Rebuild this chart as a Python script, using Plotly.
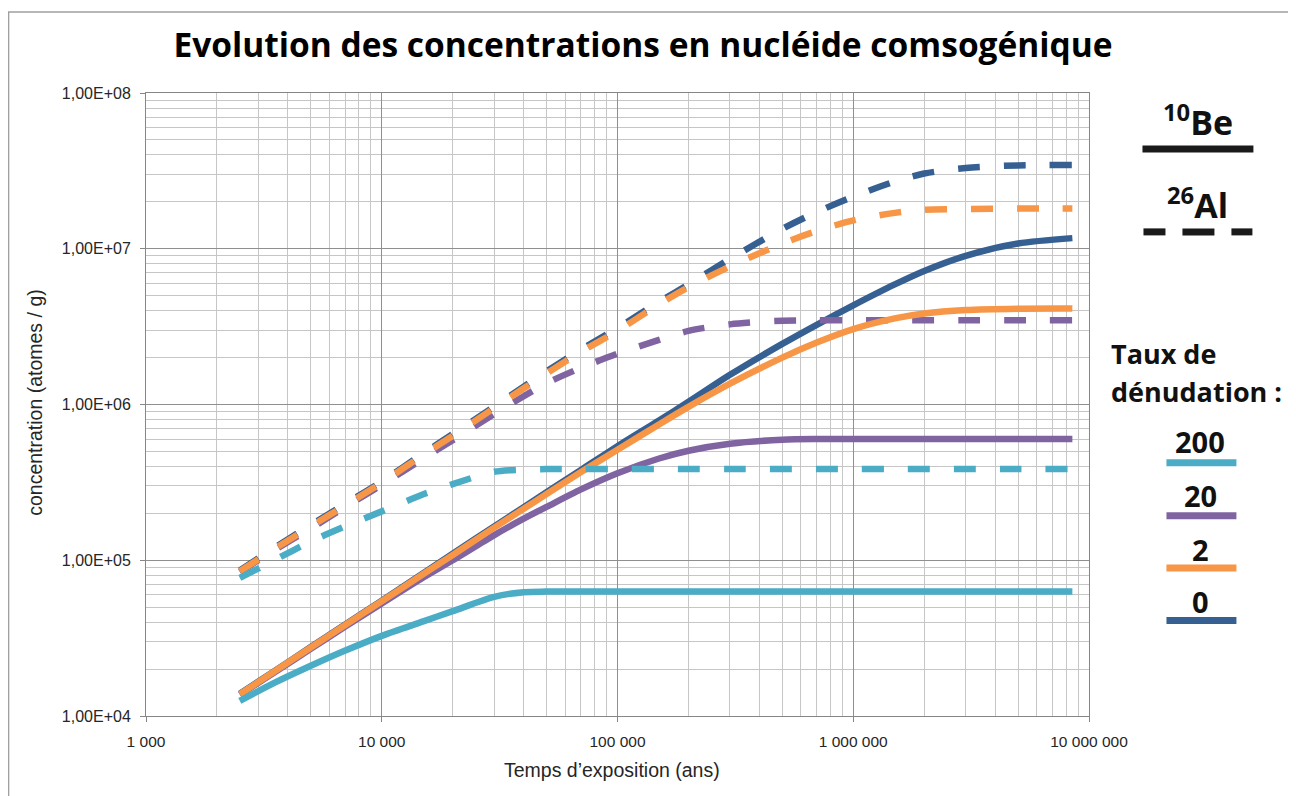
import plotly.graph_objects as go

# ---------------- data ----------------
years = [2500, 3500, 5000, 7000, 10000, 15000, 20000, 30000, 40000, 50000, 70000,
         100000, 150000, 200000, 300000, 500000, 700000, 1000000, 1500000,
         2000000, 3000000, 5000000, 8500000]

# 10Be (solid lines), by denudation rate
be_0 = [1.39e4, 1.94e4, 2.77e4, 3.87e4, 5.5e4, 8.25e4, 1.1e5, 1.65e5, 2.19e5, 2.73e5, 3.8e5,
        5.4e5, 7.9e5, 1.04e6, 1.55e6, 2.45e6, 3.25e6, 4.33e6, 5.9e6, 7.2e6, 9.0e6, 1.08e7, 1.17e7]
be_2 = [1.38e4, 1.93e4, 2.75e4, 3.84e4, 5.45e4, 8.15e4, 1.08e5, 1.62e5, 2.14e5, 2.66e5, 3.68e5,
        5.12e5, 7.45e5, 9.66e5, 1.36e6, 2.0e6, 2.5e6, 3.05e6, 3.57e6, 3.84e6, 4.04e6, 4.12e6, 4.13e6]
be_20 = [1.37e4, 1.9e4, 2.7e4, 3.75e4, 5.28e4, 7.75e4, 1.0e5, 1.45e5, 1.85e5, 2.2e5, 2.85e5,
         3.62e5, 4.5e5, 5.05e5, 5.6e5, 5.94e5, 6.0e5, 6.0e5, 6.0e5, 6.0e5, 6.0e5, 6.0e5, 6.0e5]
be_200 = [1.25e4, 1.63e4, 2.1e4, 2.63e4, 3.27e4, 4.05e4, 4.71e4, 5.82e4, 6.24e4, 6.29e4, 6.3e4,
          6.3e4, 6.3e4, 6.3e4, 6.3e4, 6.3e4, 6.3e4, 6.3e4, 6.3e4, 6.3e4, 6.3e4, 6.3e4, 6.3e4]

# 26Al (dashed lines), by denudation rate
al_0 = [8.6e4, 1.2e5, 1.68e5, 2.3e5, 3.2e5, 4.85e5, 6.45e5, 9.7e5, 1.3e6, 1.63e6, 2.25e6,
        3.1e6, 4.55e6, 5.9e6, 8.6e6, 1.34e7, 1.72e7, 2.16e7, 2.7e7, 3.04e7, 3.3e7, 3.43e7, 3.45e7]
al_2 = [8.5e4, 1.18e5, 1.65e5, 2.25e5, 3.15e5, 4.75e5, 6.3e5, 9.5e5, 1.27e6, 1.58e6, 2.18e6,
        2.97e6, 4.4e6, 5.67e6, 7.7e6, 1.08e7, 1.3e7, 1.52e7, 1.7e7, 1.78e7, 1.8e7, 1.81e7, 1.81e7]
al_20 = [8.4e4, 1.16e5, 1.6e5, 2.2e5, 3.05e5, 4.5e5, 5.9e5, 8.7e5, 1.13e6, 1.37e6, 1.72e6,
         2.12e6, 2.6e6, 2.97e6, 3.27e6, 3.45e6, 3.47e6, 3.47e6, 3.47e6, 3.47e6, 3.47e6, 3.47e6, 3.47e6]
al_200 = [7.7e4, 1.0e5, 1.32e5, 1.65e5, 2.06e5, 2.65e5, 3.08e5, 3.7e5, 3.82e5, 3.85e5, 3.85e5,
          3.85e5, 3.85e5, 3.85e5, 3.85e5, 3.85e5, 3.85e5, 3.85e5, 3.85e5, 3.85e5, 3.85e5, 3.85e5, 3.85e5]

x_tickvals = [1e3, 1e4, 1e5, 1e6, 1e7]
x_ticktext = ["1 000", "10 000", "100 000", "1 000 000", "10 000 000"]
y_tickvals = [1e4, 1e5, 1e6, 1e7, 1e8]
y_ticktext = ["1,00E+04", "1,00E+05", "1,00E+06", "1,00E+07", "1,00E+08"]

rate_labels = ["200", "20", "2", "0"]

# ---------------- style ----------------
C_BLUE = "#376092"
C_ORANGE = "#f79646"
C_PURPLE = "#8064a2"
C_CYAN = "#4bacc6"
W = 1296
H = 796
OFF = 8  # page body margin
L, R, T, B = 146, 1089.5, 93, 716.5


def px(xp):
    return (xp - L) / (R - L)


def py(yp):
    return (B - yp) / (B - T)


DASH = "22px,24px"

fig = go.Figure()
order = [
    (al_0, C_BLUE, DASH), (be_0, C_BLUE, "solid"),
    (al_20, C_PURPLE, DASH), (be_20, C_PURPLE, "solid"),
    (al_2, C_ORANGE, DASH), (be_2, C_ORANGE, "solid"),
    (al_200, C_CYAN, DASH), (be_200, C_CYAN, "solid"),
]
for ys, col, dash in order:
    fig.add_trace(go.Scatter(
        x=years, y=ys, mode="lines",
        line=dict(color=col, width=6.5, dash=dash, shape="spline", smoothing=0.8),
        showlegend=False, hoverinfo="skip"))


def minor_vals(lo, hi):
    out = []
    d = lo
    while d < hi:
        for k in range(2, 10):
            out.append(k * d)
        d *= 10
    return out


axis_common = dict(
    type="log", showline=True, linecolor="#868686", linewidth=1, mirror=True,
    ticks="outside", ticklen=5, tickcolor="#868686",
    showgrid=True, gridcolor="#8f8f8f", gridwidth=1, zeroline=False,
)

fig.update_xaxes(
    **axis_common, range=[3, 7], tickmode="array", tickvals=x_tickvals, ticktext=x_ticktext,
    tickfont=dict(family="Liberation Sans", size=15.5, color="#262626"),
    minor=dict(tickvals=minor_vals(1e3, 1e7), showgrid=True, gridcolor="#c6c6c6", gridwidth=1, ticks=""),
    ticklabelstandoff=6,
)
fig.update_yaxes(
    **axis_common, range=[4, 8], tickmode="array", tickvals=y_tickvals, ticktext=y_ticktext,
    tickfont=dict(family="Liberation Sans", size=16, color="#262626"),
    minor=dict(tickvals=minor_vals(1e4, 1e8), showgrid=True, gridcolor="#c6c6c6", gridwidth=1, ticks=""),
    ticklabelstandoff=6,
)

shapes = []
# outer chart border
shapes.append(dict(type="rect", xref="paper", yref="paper", x0=px(8.5), x1=px(1310), y0=py(12), y1=py(810),
                   line=dict(color="#a0a0a0", width=1.5), fillcolor="rgba(0,0,0,0)", layer="below"))
# 10Be legend line
shapes.append(dict(type="line", xref="paper", yref="paper", x0=px(1143), x1=px(1254), y0=py(149), y1=py(149),
                   line=dict(color="#1a1a1a", width=7)))
# 26Al legend dashed line (three segments)
for a, b in [(1144, 1166), (1183, 1215), (1232, 1253)]:
    shapes.append(dict(type="line", xref="paper", yref="paper", x0=px(a), x1=px(b), y0=py(232), y1=py(232),
                       line=dict(color="#1a1a1a", width=7)))
# denudation-rate legend bars
for lab, col, ybar in zip(rate_labels, [C_CYAN, C_PURPLE, C_ORANGE, C_BLUE], [463, 516, 568.5, 621]):
    shapes.append(dict(type="line", xref="paper", yref="paper", x0=px(1167), x1=px(1237), y0=py(ybar), y1=py(ybar),
                       line=dict(color=col, width=7)))

annotations = []
TF = "Open Sans"
AF = "Liberation Sans"
# axis titles
annotations.append(dict(xref="paper", yref="paper", x=px(612), y=py(771), text="Temps d’exposition (ans)",
                        showarrow=False, font=dict(family=AF, size=19.5, color="#262626"),
                        xanchor="center", yanchor="middle"))
annotations.append(dict(xref="paper", yref="paper", x=px(35), y=py(403), text="concentration (atomes / g)",
                        showarrow=False, textangle=-90, font=dict(family=AF, size=19.5, color="#262626"),
                        xanchor="center", yanchor="middle"))
# legend texts
annotations.append(dict(xref="paper", yref="paper", x=px(1199), y=py(121), text="<b><sup>10</sup>Be</b>",
                        showarrow=False, font=dict(family=TF, size=34, color="#111"), xanchor="center", yanchor="middle"))
annotations.append(dict(xref="paper", yref="paper", x=px(1198), y=py(204), text="<b><sup>26</sup>Al</b>",
                        showarrow=False, font=dict(family=TF, size=34, color="#111"), xanchor="center", yanchor="middle"))
annotations.append(dict(xref="paper", yref="paper", x=px(1110), y=py(354), text="<b>Taux de</b>",
                        showarrow=False, font=dict(family=TF, size=27, color="#111"), xanchor="left", yanchor="middle"))
annotations.append(dict(xref="paper", yref="paper", x=px(1110), y=py(392), text="<b>dénudation :</b>",
                        showarrow=False, font=dict(family=TF, size=27, color="#111"), xanchor="left", yanchor="middle"))
for lab, ytxt in zip(rate_labels, [442, 496, 550, 602]):
    annotations.append(dict(xref="paper", yref="paper", x=px(1201), y=py(ytxt), text="<b>" + lab + "</b>",
                            showarrow=False, font=dict(family=TF, size=29, color="#111"), xanchor="center", yanchor="middle"))

fig.update_layout(
    width=W - OFF, height=H - OFF,
    margin=dict(l=L - OFF, r=W - R, t=T - OFF, b=H - B, pad=0),
    paper_bgcolor="white", plot_bgcolor="white",
    title=dict(text="<b>Evolution des concentrations en nucléide comsogénique</b>",
               x=((173 + 1113) / 2 - OFF) / (W - OFF), xanchor="center",
               y=1 - (45 - OFF) / (H - OFF), yanchor="middle",
               font=dict(family=TF, size=33.5, color="#000")),
    shapes=shapes, annotations=annotations,
)

fig.write_html("out.html")
